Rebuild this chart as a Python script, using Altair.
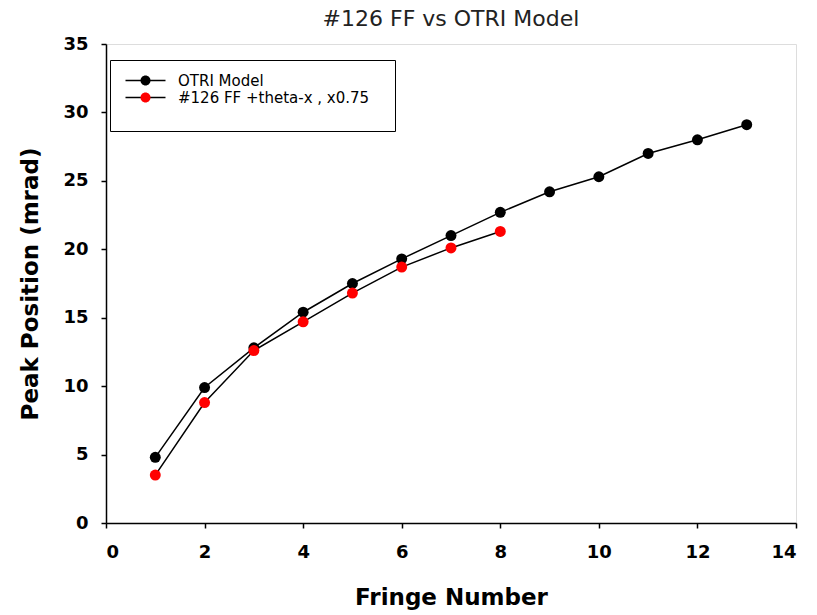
import altair as alt
import pandas as pd

fringe_model = [1, 2, 3, 4, 5, 6, 7, 8, 9, 10, 11, 12, 13]
peak_model = [4.8, 9.9, 12.8, 15.4, 17.5, 19.3, 21.0, 22.7, 24.2, 25.3, 27.0, 28.0, 29.1]
fringe_ff = [1, 2, 3, 4, 5, 6, 7, 8]
peak_ff = [3.5, 8.8, 12.6, 14.7, 16.8, 18.7, 20.1, 21.3]

s_model = "OTRI Model"
s_ff = "#126 FF +theta-x , x0.75"

df = pd.concat([
    pd.DataFrame({"fringe": fringe_model, "peak": peak_model, "series": s_model}),
    pd.DataFrame({"fringe": fringe_ff, "peak": peak_ff, "series": s_ff}),
])
df["series_line"] = df["series"]

font = "DejaVu Sans"
order = [s_model, s_ff]
spacer = "M" * 26  # invisible (transparent) legend title used only to size the legend box

def axis(title, values, label_pad, title_pad):
    return alt.Axis(title=title, values=values, grid=False,
                    labelFont=font, labelFontSize=18, labelFontWeight="bold", labelColor="black",
                    titleFont=font, titleFontSize=23, titleFontWeight="bold", titleColor="black",
                    labelPadding=label_pad, titlePadding=title_pad, tickSize=5, tickColor="black",
                    domainColor="black", domainWidth=1.5, tickWidth=1.5)

x = alt.X("fringe:Q", scale=alt.Scale(domain=[0, 14], nice=False),
          axis=axis("Fringe Number", list(range(0, 15, 2)), 15, 25))
y = alt.Y("peak:Q", scale=alt.Scale(domain=[0, 35], nice=False),
          axis=axis("Peak Position (mrad)", list(range(0, 36, 5)), 13, 20))

common_legend = dict(
    title=spacer, titleOrient="bottom", titleFontSize=10, titlePadding=2, titleLimit=1000,
    titleFont=font, titleColor="transparent",
    orient="none", legendX=4, legendY=16, symbolSize=100,
    labelFont=font, labelFontSize=15, rowPadding=1, padding=13,
    labelLimit=400, labelOffset=40, symbolOpacity=1,
)

lines = alt.Chart(df).mark_line(strokeWidth=1.5).encode(
    x=x, y=y,
    stroke=alt.Stroke("series_line:N", scale=alt.Scale(domain=order, range=["black", "black"]),
                      legend=alt.Legend(symbolType="M-1,0L7,0", symbolStrokeWidth=1.5,
                                        labelColor="black", strokeColor="black",
                                        zindex=0, **common_legend)))

points = alt.Chart(df).mark_point(filled=True, size=120, opacity=1).encode(
    x=x, y=y,
    color=alt.Color("series:N", scale=alt.Scale(domain=order, range=["black", "#ff0000"]),
                    legend=alt.Legend(symbolType="M2,0A1,1 0 1,1 4,0A1,1 0 1,1 2,0",
                                      symbolStrokeWidth=0, labelColor="transparent",
                                      zindex=1, **common_legend)))

chart = alt.layer(lines, points).resolve_legend(color="independent", stroke="independent").properties(
    width=690, height=479,
    title=alt.TitleParams("#126 FF vs OTRI Model", font=font, fontSize=22, fontWeight="normal",
                          color="#222222", offset=4),
    autosize=alt.AutoSizeParams(type="none"),
    padding={"left": 106, "top": 44, "right": 21, "bottom": 92},
).configure_view(stroke="black", strokeWidth=1.5).configure(background="white")

chart.save("out.html", embed_options={"renderer": "svg", "actions": False})
